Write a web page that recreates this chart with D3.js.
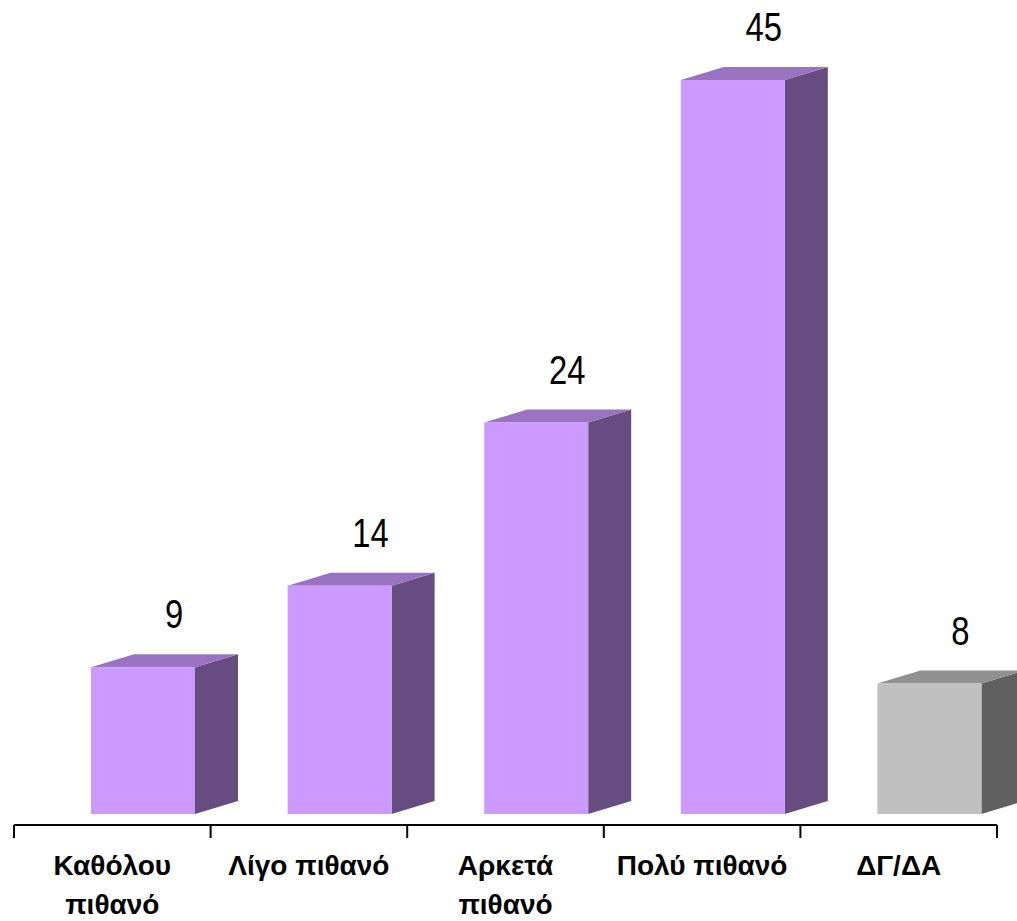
<!DOCTYPE html>
<html><head><meta charset="utf-8">
<script src="https://cdn.jsdelivr.net/npm/d3@7"></script>
<style>body{margin:0;background:#fff}svg{display:block}</style>
</head><body>
<svg id="c" width="1017" height="921"></svg>
<script>
const categories = [["Καθόλου","πιθανό"],["Λίγο πιθανό"],["Αρκετά","πιθανό"],["Πολύ πιθανό"],["ΔΓ/ΔΑ"]];
const values = [9, 14, 24, 45, 8];
const barKinds = ["main","main","main","main","other"];

const palette = {
  main: {front:"#CC99FF", side:"#664C80", top:"#9973BF"},
  other:{front:"#C0C0C0", side:"#606060", top:"#909090"}
};

const svg = d3.select("#c");
const x = d3.scaleBand().domain(d3.range(values.length)).range([14, 997]).paddingInner(0).paddingOuter(0);
const y = d3.scaleLinear().domain([0, 45]).range([814, 80]);
const bw = x.bandwidth();
const frontOff = 77, frontW = 104, dx = 43, dy = 13;
const sans = "'Liberation Sans',Arial,sans-serif";

const g = svg.append("g");
values.forEach((v,i)=>{
  const c = palette[barKinds[i]];
  const x0 = x(i) + frontOff, x1 = x0 + frontW;
  const yt = y(v), yb = y(0);
  g.append("path").attr("d",`M${x1},${yb}L${x1+dx},${yb-dy}L${x1+dx},${yt-dy}L${x1},${yt}Z`).attr("fill",c.side);
  g.append("path").attr("d",`M${x0},${yt}L${x0+dx},${yt-dy}L${x1+dx},${yt-dy}L${x1},${yt}Z`).attr("fill",c.top);
  g.append("rect").attr("x",x0).attr("y",yt).attr("width",frontW).attr("height",yb-yt).attr("fill",c.front);
  g.append("text")
    .attr("transform",`translate(${x(i)+160},${yt-dy-26}) scale(0.82,1)`)
    .attr("text-anchor","middle").attr("font-family",sans).attr("font-size",40)
    .attr("fill","#000").text(v);
});

const axisY = 825;
svg.append("line").attr("x1",14).attr("x2",997).attr("y1",axisY).attr("y2",axisY).attr("stroke","#000").attr("stroke-width",2);
const ticks = d3.range(values.length+1).map(i=> i<values.length ? x(i) : x(values.length-1)+bw);
ticks.forEach(t=>{
  svg.append("line").attr("x1",t).attr("x2",t).attr("y1",axisY).attr("y2",axisY+13).attr("stroke","#000").attr("stroke-width",2);
});
categories.forEach((lines,i)=>{
  const t = svg.append("text").attr("text-anchor","middle").attr("font-family",sans)
    .attr("font-weight","bold").attr("font-size",28).attr("fill","#000");
  lines.forEach((l,j)=>{
    t.append("tspan").attr("x", x(i)+bw/2).attr("y", 875 + j*39).text(l);
  });
});
</script>
</body></html>
